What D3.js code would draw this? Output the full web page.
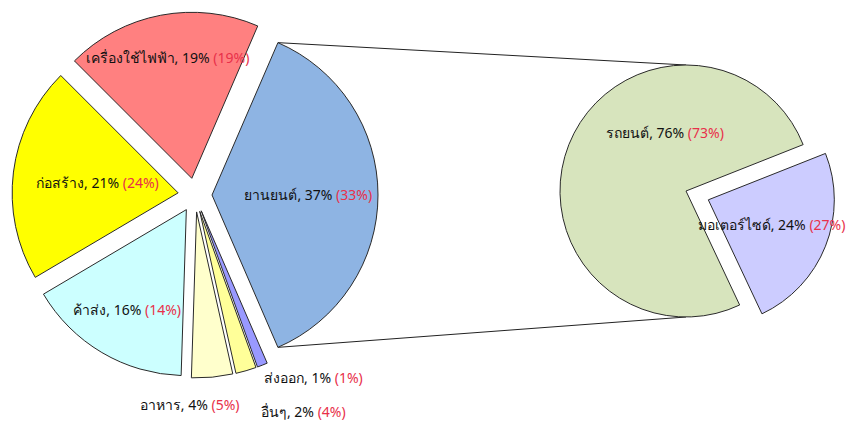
<!DOCTYPE html>
<html>
<head>
<meta charset="utf-8">
<script src="https://cdn.jsdelivr.net/npm/d3@7"></script>
<style>
  body { margin: 0; background: #fff; }
  text { font-family: Tahoma, "Noto Sans", "DejaVu Sans", sans-serif; font-size: 14px; fill: #111; }
  .prev { fill: #e8304a; }
</style>
</head>
<body>
<script>
// main pie, listed clockwise starting with the slice that is broken out
var categories = ["ยานยนต์", "ส่งออก", "อื่นๆ", "อาหาร", "ค้าส่ง", "ก่อสร้าง", "เครื่องใช้ไฟฟ้า"];
var values     = [37, 1, 2, 4, 16, 21, 19];
var prevValues = [33, 1, 4, 5, 14, 24, 19];

// breakdown of ยานยนต์
var subCategories = ["มอเตอร์ไซด์", "รถยนต์"];
var subValues     = [24, 76];
var subPrev       = [27, 73];

var colors    = ["#8eb4e3", "#9999ff", "#ffff99", "#ffffcc", "#ccffff", "#ffff00", "#ff8080"];
var subColors = ["#ccccff", "#d7e4bd"];

// label placement: k = distance along the slice middle (fraction of radius), dx/dy nudge
var labelPos = {
  "ยานยนต์":        { k: 0.58, dx: 0,   dy: 0 },
  "ส่งออก":         { k: 1.05, dx: 48,  dy: 5 },
  "อื่นๆ":           { k: 1.20, dx: 48,  dy: 9 },
  "อาหาร":          { k: 1.16, dx: -25, dy: 1 },
  "ค้าส่ง":          { k: 0.70, dx: 0,   dy: 0 },
  "ก่อสร้าง":        { k: 0.49, dx: 0,   dy: 0 },
  "เครื่องใช้ไฟฟ้า":   { k: 0.75, dx: -1,  dy: 2 },
  "มอเตอร์ไซด์":     { k: 0.54, dx: 0,   dy: 0 },
  "รถยนต์":         { k: 0.00, dx: -21, dy: -58 }
};

var w = 849, h = 423;
var svg = d3.select("body").append("svg")
  .attr("width", w)
  .attr("height", h);

var cx = 195, cy = 195, r = 166, explode = 17;
var cx2 = 686, cy2 = 191, r2 = 126, explode2 = 24;

function mid(d) { return (d.startAngle + d.endAngle) / 2; }
function polar(a, len) { return [Math.sin(a) * len, -Math.cos(a) * len]; }

var total = d3.sum(values);
var a0 = Math.PI / 2 - values[0] / total * Math.PI;
var pie = d3.pie().sort(null).startAngle(a0).endAngle(a0 + 2 * Math.PI);
var arcs = pie(values);
var arc = d3.arc().innerRadius(0).outerRadius(r);

var subPie = d3.pie().sort(null)
  .startAngle(Math.PI / 2 - 21.6 * Math.PI / 180)
  .endAngle(Math.PI / 2 - 21.6 * Math.PI / 180 + 2 * Math.PI);
var subArcs = subPie(subValues);
var subArc = d3.arc().innerRadius(0).outerRadius(r2);

// connector lines from the broken out slice to the second pie
var b = arcs[0];
var bo = polar(mid(b), explode);
var pTop = polar(b.startAngle, r), pBot = polar(b.endAngle, r);
svg.append("line")
  .attr("x1", cx + bo[0] + pTop[0]).attr("y1", cy + bo[1] + pTop[1])
  .attr("x2", cx2).attr("y2", cy2 - r2)
  .attr("stroke", "#222").attr("stroke-width", 1);
svg.append("line")
  .attr("x1", cx + bo[0] + pBot[0]).attr("y1", cy + bo[1] + pBot[1])
  .attr("x2", cx2).attr("y2", cy2 + r2)
  .attr("stroke", "#222").attr("stroke-width", 1);

svg.selectAll("path.main")
  .data(arcs)
  .enter()
  .append("path")
  .attr("class", "main")
  .attr("transform", function (d) {
    var o = polar(mid(d), explode);
    return "translate(" + (cx + o[0]) + "," + (cy + o[1]) + ")";
  })
  .attr("d", arc)
  .attr("fill", function (d, i) { return colors[i]; })
  .attr("stroke", "#2a2a2a")
  .attr("stroke-width", 1);

svg.selectAll("path.sub")
  .data(subArcs)
  .enter()
  .append("path")
  .attr("class", "sub")
  .attr("transform", function (d, i) {
    var o = polar(mid(d), i === 0 ? explode2 : 0);
    return "translate(" + (cx2 + o[0]) + "," + (cy2 + o[1]) + ")";
  })
  .attr("d", subArc)
  .attr("fill", function (d, i) { return subColors[i]; })
  .attr("stroke", "#2a2a2a")
  .attr("stroke-width", 1);

function addLabel(name, val, prev, d, ox, oy, rad, ex) {
  var p = labelPos[name];
  var a = mid(d);
  var o = polar(a, ex + p.k * rad);
  var t = svg.append("text")
    .attr("x", ox + o[0] + p.dx)
    .attr("y", oy + o[1] + p.dy)
    .attr("text-anchor", "middle")
    .attr("dy", "0.35em");
  t.append("tspan").text(name + ", " + val + "% ");
  t.append("tspan").attr("class", "prev").text("(" + prev + "%)");
}

arcs.forEach(function (d, i) {
  addLabel(categories[i], values[i], prevValues[i], d, cx, cy, r, explode);
});
subArcs.forEach(function (d, i) {
  addLabel(subCategories[i], subValues[i], subPrev[i], d, cx2, cy2, r2, i === 0 ? explode2 : 0);
});
</script>
</body>
</html>
